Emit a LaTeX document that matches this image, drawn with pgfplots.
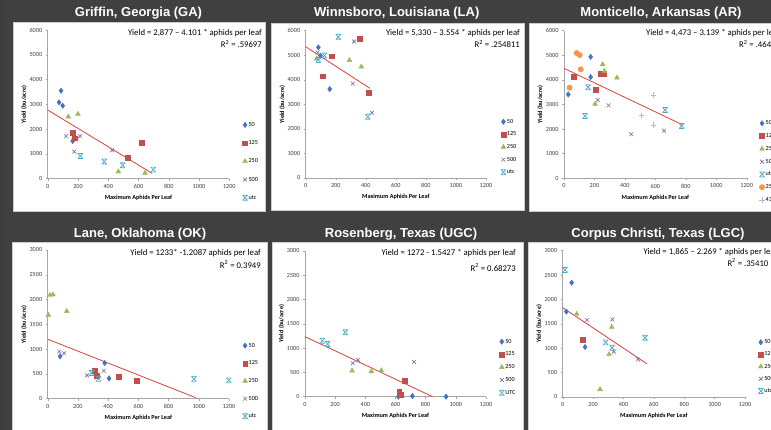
\documentclass[border=0pt]{standalone}
\usepackage{pgfplots}
\pgfplotsset{compat=1.18}
\usepackage{fontspec}
\setmainfont{Carlito}
\newfontfamily\titlefont{Liberation Sans}
\definecolor{bg}{HTML}{404040}
\definecolor{c50}{HTML}{4472C4}
\definecolor{c125}{HTML}{C0504D}
\definecolor{c250}{HTML}{9BBB59}
\definecolor{c500}{HTML}{8064A2}
\definecolor{cutc}{HTML}{4BACC6}
\definecolor{corange}{HTML}{F79646}
\definecolor{cplus}{HTML}{A5BDE0}
\definecolor{ctrend}{HTML}{E0403A}
\definecolor{axisgray}{HTML}{A6A6A6}
\definecolor{tickgray}{HTML}{404040}
\pgfdeclareplotmark{xbar}{%
 \pgfpathmoveto{\pgfqpoint{-\pgfplotmarksize}{\pgfplotmarksize}}%
 \pgfpathlineto{\pgfqpoint{\pgfplotmarksize}{-\pgfplotmarksize}}%
 \pgfpathmoveto{\pgfqpoint{-\pgfplotmarksize}{-\pgfplotmarksize}}%
 \pgfpathlineto{\pgfqpoint{\pgfplotmarksize}{\pgfplotmarksize}}%
 \pgfpathmoveto{\pgfqpoint{-\pgfplotmarksize}{\pgfplotmarksize}}%
 \pgfpathlineto{\pgfqpoint{\pgfplotmarksize}{\pgfplotmarksize}}%
 \pgfpathmoveto{\pgfqpoint{-\pgfplotmarksize}{-\pgfplotmarksize}}%
 \pgfpathlineto{\pgfqpoint{\pgfplotmarksize}{-\pgfplotmarksize}}%
 \pgfusepathqstroke}
\newcommand{\smallf}{\fontsize{6.2}{7}\selectfont}
\newcommand{\eqf}{\fontsize{8.7}{9.5}\selectfont}
\pgfplotsset{
 panel/.style={
  scale only axis, anchor=south west,
  xmin=0, xmax=1200, ymin=0,
  xtick={0,200,...,1200},
  axis x line*=bottom, axis y line*=left,
  axis line style={draw=axisgray, line width=0.5pt},
  tick style={draw=axisgray, line width=0.4pt},
  tick align=outside, major tick length=2pt,
  ticklabel style={font=\smallf, text=tickgray},
  /pgf/number format/assume math mode=true,
  /pgf/number format/1000 sep={},
  xlabel={Maximum Aphids Per Leaf}, ylabel={Yield (bu/acre)},
  label style={font=\smallf\bfseries},
  xlabel style={at={(axis description cs:0.5,-0.13)}, anchor=center},
  ylabel style={at={(axis description cs:-0.13,0.5)}, anchor=center},
  clip=false,
  legend cell align=left,
  legend image code/.code={\draw[##1] plot coordinates {(0pt,0pt)};},
  legend style={draw=none, fill=none, inner sep=0pt, anchor=west, font=\smallf,
    nodes={inner sep=0pt, text height=4.5pt, text depth=1.5pt},
    /tikz/column sep=1pt},
 },
 s50/.style={only marks, mark=diamond*, mark size=2.7pt, color=c50},
 s125/.style={only marks, mark=square*, mark size=2.4pt, color=c125},
 s250/.style={only marks, mark=triangle*, mark size=2.8pt, color=c250},
 s500/.style={only marks, mark=x, mark size=2.7pt, color=c500, mark options={line width=0.6pt}},
 sutc/.style={only marks, mark=xbar, mark size=2.5pt, color=cutc, mark options={line width=0.7pt}},
 sorange/.style={only marks, mark=*, mark size=2.7pt, color=corange},
 splus/.style={only marks, mark=+, mark size=2.7pt, color=cplus, mark options={line width=0.6pt}},
 trend/.style={forget plot, no marks, color=ctrend, line width=0.8pt},
}
\begin{document}
\begin{tikzpicture}
\useasboundingbox (0pt,0pt) rectangle (771pt,430pt);
\clip (0pt,0pt) rectangle (771pt,430pt);
\fill[bg] (0pt,0pt) rectangle (771pt,430pt);
\fill[red!75!black] (1.1pt,0pt) rectangle (2.4pt,430pt);
\foreach \a/\b/\c/\d in {13/219/265/408, 271/220/524/407, 529/219/775/407, 12/-5/267/188, 272/-5/523/188, 528/-5/775/188}
  \filldraw[fill=white, draw=gray!40, line width=0.5pt] (\a pt,\b pt) rectangle (\c pt,\d pt);
% titles
\begin{scope}[every node/.style={text=white, font=\titlefont\bfseries\fontsize{13}{15}\selectfont}]
\node at (138.5pt,417pt) {Griffin, Georgia (GA)};
\node at (396.7pt,417pt) {Winnsboro, Louisiana (LA)};
\node at (661pt,417pt) {Monticello, Arkansas (AR)};
\node at (140pt,196pt) {Lane, Oklahoma (OK)};
\node at (401pt,195.7pt) {Rosenberg, Texas (UGC)};
\node at (658pt,196pt) {Corpus Christi, Texas (LGC)};
\end{scope}

% Panel 1 Griffin
\begin{axis}[panel, at={(47.7pt,251.3pt)}, width=181.6pt, height=148.7pt, ymax=6000, ytick={0,1000,...,6000},
  legend style={at={(axis description cs:1.072,0.1167)}, row sep=12.2pt}]
\addplot[s50] coordinates {(88,3550) (75,3080) (99,2945) (165,1520)};
\addplot[s125] coordinates {(165,1840) (178,1630) (621,1440) (531,850)};
\addplot[s250] coordinates {(136,2500) (200,2610) (467,285) (643,230)};
\addplot[s500] coordinates {(121,1710) (214,1720) (176,1090) (425,1145)};
\addplot[sutc] coordinates {(216,915) (374,690) (495,540) (698,365)};
\addplot[trend] coordinates {(0,2770) (690,215)};
\legend{50,125,250,500,utc}
\end{axis}

% Panel 2 Winnsboro
\begin{axis}[panel, at={(305.7pt,252pt)}, width=180.3pt, height=147.3pt, ymax=6000, ytick={0,1000,...,6000},
  legend style={at={(axis description cs:1.0815,0.2105)}, row sep=6.65pt}]
\addplot[s50] coordinates {(84,5320) (98,4980) (160,3620)};
\addplot[s125] coordinates {(359,5670) (175,4965) (115,4150) (419,3490)};
\addplot[s250] coordinates {(73,4860) (291,4800) (370,4530)};
\addplot[s500] coordinates {(322,5560) (80,5110) (313,3850) (441,2660)};
\addplot[sutc] coordinates {(217,5750) (124,4990) (84,4810) (413,2495)};
\addplot[trend] coordinates {(0,5345) (428,3650)};
\legend{50,125,250,500,utc}
\end{axis}

% Panel 3 Monticello
\begin{axis}[panel, at={(564pt,251.7pt)}, width=182.7pt, height=147.6pt, ymax=6000, ytick={0,1000,...,6000},
  legend style={at={(axis description cs:1.068,0.1128)}, row sep=6.78pt}]
\addplot[s50] coordinates {(175,4940) (175,4115) (28,3410)};
\addplot[s125] coordinates {(66,4140) (240,4265) (262,4265) (206,3610)};
\addplot[s250] coordinates {(254,4630) (265,4360) (348,4090) (204,3020)};
\addplot[s500] coordinates {(221,3180) (293,2965) (442,1790) (657,1935)};
\addplot[sutc] coordinates {(158,3700) (138,2530) (664,2775) (773,2125)};
\addplot[sorange] coordinates {(83,5090) (103,5010) (110,4430) (37,3685)};
\addplot[splus] coordinates {(587,3380) (510,2545) (586,2160)};
\addplot[trend] coordinates {(0,4470) (773,2190)};
\legend{50,125,250,500,utc,250,430}
\end{axis}

% Panel 4 Lane
\begin{axis}[panel, at={(47.7pt,31.3pt)}, width=181.3pt, height=148.7pt, ymax=3000, ytick={0,500,...,3000},
  legend style={at={(axis description cs:1.074,0.119)}, row sep=11.65pt}]
\addplot[s50] coordinates {(82,855) (377,720) (406,410)};
\addplot[s125] coordinates {(311,570) (326,470) (470,445) (591,365)};
\addplot[s250] coordinates {(4,1690) (15,2090) (35,2100) (126,1765)};
\addplot[s500] coordinates {(77,950) (108,915) (260,470) (371,565)};
\addplot[sutc] coordinates {(289,520) (337,400) (968,400) (1198,370)};
\addplot[trend] coordinates {(0,1200) (980,20)};
\legend{50,125,250,500,utc}
\end{axis}

% Panel 5 Rosenberg
\begin{axis}[panel, at={(305pt,33.3pt)}, width=181pt, height=145.7pt, ymax=3000, ytick={0,500,...,3000},
  legend style={at={(axis description cs:1.0724,0.2025)}, row sep=6.75pt}]
\addplot[s50] coordinates {(619,0) (712,14) (935,0)};
\addplot[s125] coordinates {(625,100) (634,35) (659,330)};
\addplot[s250] coordinates {(312,535) (440,520) (506,540)};
\addplot[s500] coordinates {(316,690) (351,760) (723,715)};
\addplot[sutc] coordinates {(115,1150) (150,1085) (267,1325)};
\addplot[trend] coordinates {(0,1236) (846,0)};
\legend{50,125,250,500,UTC}
\end{axis}

% Panel 6 Corpus Christi
\begin{axis}[panel, at={(562.7pt,33pt)}, width=182.3pt, height=146.3pt, ymax=3000, ytick={0,500,...,3000},
  legend style={at={(axis description cs:1.0719,0.2075)}, row sep=6.2pt}]
\addplot[s50] coordinates {(59,2345) (24,1750) (147,1025)};
\addplot[s125] coordinates {(132,1175)};
\addplot[s250] coordinates {(92,1700) (323,1435) (305,875) (246,155)};
\addplot[s500] coordinates {(160,1580) (327,1590) (336,930) (496,770)};
\addplot[sutc] coordinates {(15,2605) (283,1120) (325,1010) (542,1215)};
\addplot[trend] coordinates {(0,1832) (553,683)};
\legend{50,125,250,500,utc}
\end{axis}

% equations
\begin{scope}[every node/.style={font=\eqf, inner sep=0pt, text=black}]
\node[anchor=east] at (262pt,397pt) {Yield = 2,877 – 4.101 * aphids per leaf};
\node[anchor=east] at (262pt,386pt) {R\textsuperscript{2} = .59697};
\node[anchor=east] at (520pt,397pt) {Yield = 5,330 – 3.554 * aphids per leaf};
\node[anchor=east] at (520pt,386pt) {R\textsuperscript{2} = .254811};
\node[anchor=west] at (646pt,397pt) {Yield = 4,473 – 3.139 * aphids per leaf};
\node[anchor=west] at (739pt,386pt) {R\textsuperscript{2} = .46495};
\node[anchor=east] at (261pt,176.7pt) {Yield = 1233* -1.2087 aphids per leaf};
\node[anchor=east] at (261pt,165.7pt) {R\textsuperscript{2} = 0.3949};
\node[anchor=east] at (516pt,176.7pt) {Yield = 1272 - 1.5427 * aphids per leaf};
\node[anchor=east] at (516pt,162.7pt) {R\textsuperscript{2} = 0.68273};
\node[anchor=west] at (643.3pt,178pt) {Yield = 1,865 – 2.269 * aphids per leaf};
\node[anchor=west] at (727.3pt,167.7pt) {R\textsuperscript{2} = .35410};
\end{scope}
\end{tikzpicture}
\end{document}
